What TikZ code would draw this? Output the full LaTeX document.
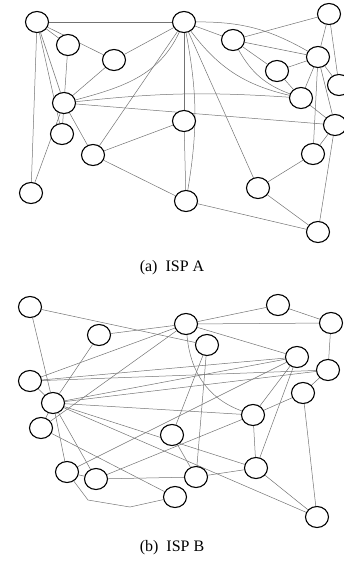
\documentclass[tikz,border=0pt]{standalone}
\usepackage{fontspec}
\setmainfont{Liberation Serif}
\usetikzlibrary{shapes.geometric, backgrounds}
\tikzset{
	router/.style={ellipse, draw, line width=1.1pt, fill=white, minimum width=23pt, minimum height=21pt, inner sep=0pt},
	link/.style={draw=black!55, line width=0.5pt},
	caption/.style={font=\fontsize{16}{19}\selectfont}
}

\begin{document}
\begin{tikzpicture}[x=1pt,y=1pt]
	\useasboundingbox (0,0) rectangle (344,-565);

	% ISP A routers
	\node[router] (a1) at (37,-22) {};
	\node[router] (a2) at (68,-45) {};
	\node[router] (a3) at (114,-60) {};
	\node[router] (a4) at (184,-22) {};
	\node[router] (a5) at (233,-40) {};
	\node[router] (a6) at (329,-14) {};
	\node[router] (a7) at (318,-57) {};
	\node[router] (a8) at (277,-71) {};
	\node[router] (a9) at (301,-98) {};
	\node[router] (a10) at (339,-85) {};
	\node[router] (a11) at (64,-103) {};
	\node[router] (a12) at (62,-134) {};
	\node[router] (a13) at (93,-155) {};
	\node[router] (a14) at (184,-121) {};
	\node[router] (a15) at (335,-125) {};
	\node[router] (a16) at (313,-154) {};
	\node[router] (a17) at (258,-188) {};
	\node[router] (a18) at (31,-193) {};
	\node[router] (a19) at (186,-201) {};
	\node[router] (a20) at (318,-232) {};
	\node[caption] (capa) at (172,-268) {(a)\ \ ISP A};

	% ISP A links
	\begin{scope}[on background layer]
		\draw[link] (a1) -- (a4);
		\draw[link] (a1) -- (a2);
		\draw[link] (a1) -- (a3);
		\draw[link] (a1) -- (a18);
		\draw[link] (a1) -- (a12);
		\draw[link] (a1) -- (a11);
		\draw[link] (a2) -- (a11);
		\draw[link] (a3) -- (a4);
		\draw[link] (a3) -- (a11);
		\draw[link] (a4) -- (a5);
		\draw[link] (a4) to[bend left=15] (a7);
		\draw[link] (a4) to[bend right=20] (a9);
		\draw[link] (a11) to[out=15,in=-115] (a4);
		\draw[link] (a4) -- (a13);
		\draw[link] (a4) -- (a14);
		\draw[link] (a4) to[bend left=10] (a19);
		\draw[link] (a4) -- (a17);
		\draw[link] (a5) -- (a6);
		\draw[link] (a5) -- (a7);
		\draw[link] (a5) -- (a8);
		\draw[link] (a5) to[bend right=20] (a9);
		\draw[link] (a6) -- (a7);
		\draw[link] (a6) -- (a10);
		\draw[link] (a7) -- (a8);
		\draw[link] (a7) -- (a9);
		\draw[link] (a7) -- (a10);
		\draw[link] (a7) -- (a15);
		\draw[link] (a7) -- (a16);
		\draw[link] (a8) -- (a9);
		\draw[link] (a9) -- (a15);
		\draw[link] (a11) -- (a12);
		\draw[link] (a11) -- (a13);
		\draw[link] (a11) -- (a18);
		\draw[link] (a11) -- (a15);
		\draw[link] (a11) to[bend left=5] (a9);
		\draw[link] (a13) -- (a14);
		\draw[link] (a13) -- (a19);
		\draw[link] (a14) -- (a19);
		\draw[link] (a15) -- (a16);
		\draw[link] (a15) -- (a20);
		\draw[link] (a16) -- (a17);
		\draw[link] (a17) -- (a20);
		\draw[link] (a19) -- (a20);
	\end{scope}

	% ISP B routers
	\node[router] (b1) at (30,-307) {};
	\node[router] (b2) at (99,-335) {};
	\node[router] (b3) at (186,-324) {};
	\node[router] (b4) at (207,-345) {};
	\node[router] (b5) at (278,-305) {};
	\node[router] (b6) at (331,-323) {};
	\node[router] (b7) at (297,-357) {};
	\node[router] (b8) at (328,-370) {};
	\node[router] (b9) at (30,-381) {};
	\node[router] (b10) at (53,-403) {};
	\node[router] (b11) at (41,-428) {};
	\node[router] (b12) at (303,-393) {};
	\node[router] (b13) at (253,-415) {};
	\node[router] (b14) at (172,-435) {};
	\node[router] (b15) at (67,-472) {};
	\node[router] (b16) at (96,-479) {};
	\node[router] (b17) at (196,-477) {};
	\node[router] (b18) at (256,-468) {};
	\node[router] (b19) at (175,-497) {};
	\node[router] (b20) at (317,-517) {};
	\coordinate (bk1) at (88,-500);
	\coordinate (bk2) at (130,-507);
	\node[caption] (capb) at (172,-548) {(b)\ \ ISP B};

	% ISP B links
	\begin{scope}[on background layer]
		\draw[link] (b1) -- (b4);
		\draw[link] (b1) -- (b10);
		\draw[link] (b2) -- (b3);
		\draw[link] (b2) -- (b10);
		\draw[link] (b3) -- (b5);
		\draw[link] (b3) -- (b6);
		\draw[link] (b3) -- (b7);
		\draw[link] (b3) to[out=-85,in=160] (b13);
		\draw[link] (b4) -- (b14);
		\draw[link] (b4) -- (b17);
		\draw[link] (b5) -- (b6);
		\draw[link] (b6) -- (b8);
		\draw[link] (b7) -- (b13);
		\draw[link] (b7) -- (b18);
		\draw[link] (b8) -- (b12);
		\draw[link] (b9) -- (b3);
		\draw[link] (b9) -- (b7);
		\draw[link] (b9) -- (b8);
		\draw[link] (b9) -- (b10);
		\draw[link] (b10) -- (b7);
		\draw[link] (b10) -- (b8);
		\draw[link] (b10) -- (b11);
		\draw[link] (b10) -- (b13);
		\draw[link] (b10) -- (b15);
		\draw[link] (b10) -- (b16);
		\draw[link] (b10) -- (b18);
		\draw[link] (b10) -- (b20);
		\draw[link] (b11) -- (b3);
		\draw[link] (b11) -- (b19);
		\draw[link] (b12) -- (b13);
		\draw[link] (b12) -- (b20);
		\draw[link] (b13) -- (b18);
		\draw[link] (b14) -- (b17);
		\draw[link] (b15) -- (b16);
		\draw[link] (b15) -- (b7);
		\draw[link] (b15) -- (bk1) -- (bk2) -- (b19);
		\draw[link] (b16) -- (b13);
		\draw[link] (b16) -- (b17);
		\draw[link] (b17) -- (b18);
		\draw[link] (b18) -- (b20);
	\end{scope}
\end{tikzpicture}
\end{document}
